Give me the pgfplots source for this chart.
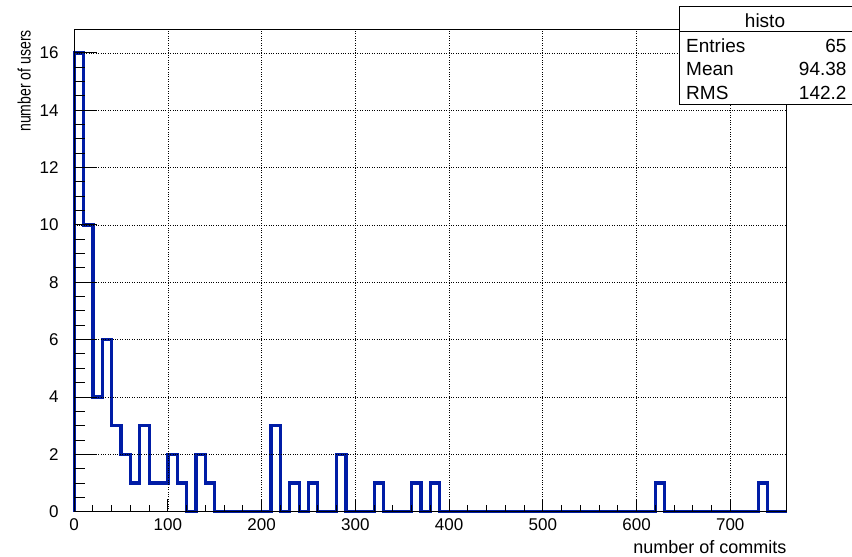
\documentclass[border=0pt]{standalone}
\usepackage{fontspec}
\setmainfont{Liberation Sans}
\usepackage{pgfplots}
\pgfplotsset{compat=1.18}
\definecolor{histblue}{RGB}{0,28,166}
\newcommand{\tickfont}{\fontsize{17bp}{20bp}\selectfont}
\newcommand{\titlefont}{\fontsize{18bp}{21bp}\selectfont}
\newcommand{\statfont}{\fontsize{19bp}{22bp}\selectfont}
\begin{document}
\begin{tikzpicture}
\path[use as bounding box] (0bp,0bp) rectangle (852bp,557bp);
\begin{axis}[
  at={(74.2bp,45.3bp)}, anchor=south west,
  scale only axis, width=712.3bp, height=481.7bp,
  xmin=0, xmax=760, ymin=0, ymax=16.8,
  clip=false, axis on top,
  xtick={0,100,...,700}, minor x tick num=4,
  ytick={0,2,...,16}, minor y tick num=0,
  xtick pos=left, ytick pos=left,
  tick align=inside,
  major tick length=13bp, minor tick length=6.5bp,
  grid=major,
  major grid style={black, line width=0.7bp, dash pattern=on 0.8bp off 1.6bp},
  axis line style={black, line width=1bp},
  tick style={black, line width=1bp},
  /pgf/number format/assume math mode=true,
  tick label style={font=\tickfont},
  xticklabel style={anchor=north, inner sep=0pt, yshift=-6.5bp},
  yticklabel style={anchor=east, inner sep=0pt, xshift=-15.5bp},
]
\addplot[const plot, histblue, line width=3.2bp, line join=miter] coordinates {
(0,0) (0,16) (10,10) (20,4) (30,6) (40,3) (50,2) (60,1) (70,3) (80,1) (90,1)
(100,2) (110,1) (120,0) (130,2) (140,1) (150,0) (210,3) (220,0) (230,1) (240,0)
(250,1) (260,0) (280,2) (290,0) (320,1) (330,0) (360,1) (370,0) (380,1) (390,0)
(620,1) (630,0) (730,1) (740,0) (760,0)
};
\end{axis}
\begin{axis}[
  at={(74.2bp,45.3bp)}, anchor=south west,
  scale only axis, width=712.3bp, height=481.7bp,
  xmin=0, xmax=760, ymin=0, ymax=16.8,
  xtick=\empty,
  ytick={0,2,...,16}, yticklabels={}, minor y tick num=3,
  ytick pos=left, tick align=inside,
  major tick length=23bp, minor tick length=11bp,
  axis line style={black, line width=1bp},
  tick style={black, line width=1bp},
]
\end{axis}
% axis titles
\node[rotate=90, anchor=base east, inner sep=0pt, font=\titlefont] at (30.5bp,527bp) {\scalebox{0.78}[1]{number of users}};
\node[anchor=base east, inner sep=0pt, font=\titlefont] at (786.5bp,4bp) {number of commits};
% stats box
\fill[white] (679bp,452bp) rectangle (853bp,550bp);
\draw[black, line width=1bp] (679bp,452bp) rectangle (853bp,550bp);
\draw[black, line width=1bp] (679bp,525bp) -- (853bp,525bp);
\node[anchor=base, inner sep=0pt, font=\statfont] at (765bp,529bp) {histo};
\node[anchor=base west, inner sep=0pt, font=\statfont] at (686bp,504.3bp) {Entries};
\node[anchor=base east, inner sep=0pt, font=\statfont] at (846.7bp,504.3bp) {65};
\node[anchor=base west, inner sep=0pt, font=\statfont] at (686bp,481bp) {Mean};
\node[anchor=base east, inner sep=0pt, font=\statfont] at (846.7bp,481bp) {94.38};
\node[anchor=base west, inner sep=0pt, font=\statfont] at (686bp,457bp) {RMS};
\node[anchor=base east, inner sep=0pt, font=\statfont] at (846.7bp,457bp) {142.2};
\end{tikzpicture}
\end{document}
